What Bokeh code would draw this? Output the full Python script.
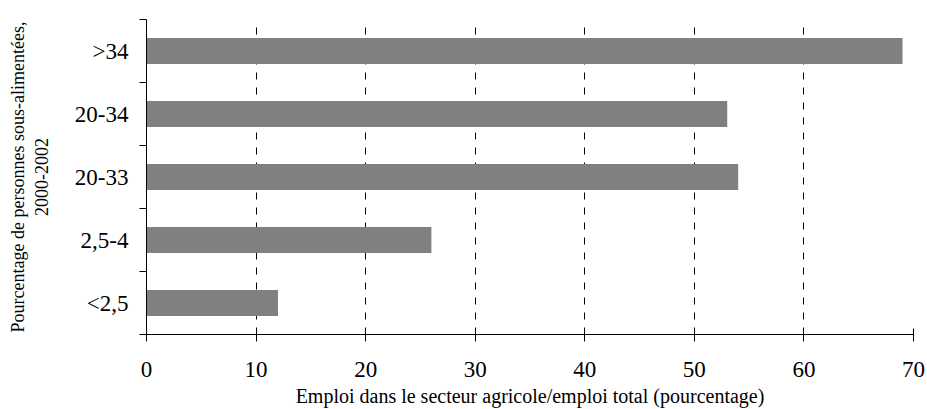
from bokeh.plotting import figure
from bokeh.models import FixedTicker, Range1d, ColumnDataSource
from bokeh.embed import file_html
from bokeh.resources import INLINE

# Data (bottom to top)
categories = ["<2,5", "2,5-4", "20-33", "20-34", ">34"]
values = [12, 26, 54, 53, 69]
x_ticks = [0, 10, 20, 30, 40, 50, 60, 70]

FONT = "Liberation Serif"

pos = [i + 0.5 for i in range(len(categories))]
src = ColumnDataSource(dict(y=pos, right=values, cat=categories))

p = figure(width=927, height=409, output_backend="svg", toolbar_location=None,
           x_range=Range1d(0, 70), y_range=Range1d(0, len(categories)),
           min_border_left=146, min_border_right=14, min_border_top=19, min_border_bottom=75)
p.outline_line_color = None
p.background_fill_color = "white"
p.border_fill_color = "white"

p.hbar(y="y", left=0, right="right", height=0.41, source=src,
       fill_color="#808080", line_color=None)

# X axis
xa = p.xaxis[0]
xa.ticker = FixedTicker(ticks=x_ticks)
xa.axis_label = "Emploi dans le secteur agricole/emploi total (pourcentage)"
xa.axis_label_text_font = FONT
xa.axis_label_text_font_size = "20px"
xa.axis_label_text_font_style = "normal"
xa.axis_label_text_color = "black"
xa.axis_label_standoff = 5
xa.major_label_text_font = FONT
xa.major_label_text_font_size = "23px"
xa.major_label_text_color = "black"
xa.major_label_standoff = 20
xa.major_tick_in = 6
xa.major_tick_out = 7
xa.minor_tick_line_color = None
xa.axis_line_color = "black"
xa.major_tick_line_color = "black"

# Y axis: labels at centers, ticks at boundaries (minor)
ya = p.yaxis[0]
ya.ticker = FixedTicker(ticks=pos, minor_ticks=list(range(len(categories) + 1)))
ya.major_label_overrides = {pv: c for pv, c in zip(pos, categories)}
ya.major_tick_line_color = None
ya.major_tick_in = 0
ya.major_tick_out = 7
ya.minor_tick_in = 0
ya.minor_tick_out = 7
ya.minor_tick_line_color = "black"
ya.axis_line_color = "black"
ya.major_label_text_font = FONT
ya.major_label_text_font_size = "23px"
ya.major_label_text_color = "black"
ya.major_label_standoff = 11
ya.axis_label = "Pourcentage de personnes sous-alimentées,\n2000-2002"
ya.axis_label_text_font = FONT
ya.axis_label_text_font_size = "18px"
ya.axis_label_text_font_style = "normal"
ya.axis_label_text_color = "black"
ya.axis_label_standoff = 20

# Grid
p.ygrid.grid_line_color = None
p.xgrid.ticker = FixedTicker(ticks=x_ticks[1:])
p.xgrid.grid_line_color = "black"
p.xgrid.grid_line_dash = "7 8"
p.xgrid.grid_line_width = 1

open("out.html", "w").write(file_html(p, INLINE))
